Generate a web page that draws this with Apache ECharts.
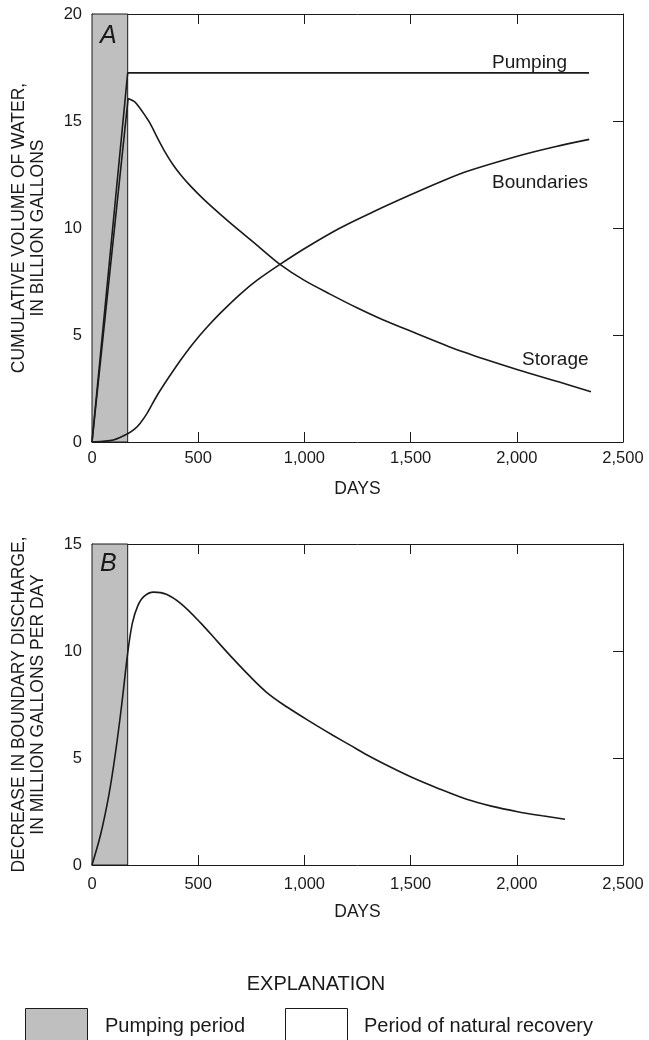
<!DOCTYPE html>
<html>
<head>
<meta charset="utf-8">
<title>Pumping and natural recovery</title>
<script src="https://cdn.jsdelivr.net/npm/echarts@6/dist/echarts.min.js"></script>
<style>
html,body{margin:0;padding:0;background:#fff;}
#chart{width:649px;height:1040px;}
</style>
</head>
<body>
<div id="chart"></div>
<script>
// end of the pumping period, days
var pumpEnd = 168;

// panel A - cumulative volume, billion gallons
var pumping = [[0,0],[168,17.25],[2340,17.25]];
var storageRise = [[0,0],[170,16.05]];
var storageFall = [[170,16.05],[200,15.9],[226,15.6],[250,15.25],[273,14.9],[305,14.27],[340,13.62],[380,12.98],
    [420,12.45],[462,11.98],[530,11.3],[603,10.65],[697,9.85],[776,9.2],[885,8.3],[1000,7.55],[1123,6.9],
    [1250,6.26],[1372,5.7],[1508,5.15],[1750,4.2],[2008,3.36],[2200,2.8],[2349,2.35]];
var boundaries = [[0,0],[50,0.03],[100,0.09],[170,0.4],[200,0.6],[226,0.87],[260,1.35],[305,2.15],[360,3.0],
    [415,3.8],[477,4.62],[540,5.35],[603,6.01],[697,6.9],[776,7.55],[885,8.3],[1011,9.1],[1168,10.0],
    [1325,10.76],[1500,11.55],[1639,12.15],[1767,12.65],[2019,13.4],[2180,13.8],[2341,14.14]];

// panel B - decrease in boundary discharge, million gallons per day
var discharge = [[0,0],[40,1.4],[80,3.3],[110,5.2],[140,7.5],[168,9.9],[190,11.3],[215,12.1],[245,12.55],
    [290,12.75],[350,12.65],[420,12.2],[508,11.35],[590,10.45],[665,9.63],[745,8.8],[822,8.07],[900,7.5],
    [979,7.0],[1060,6.5],[1136,6.05],[1215,5.6],[1293,5.15],[1400,4.6],[1505,4.1],[1630,3.58],
    [1764,3.07],[1880,2.75],[2004,2.49],[2120,2.3],[2227,2.14]];

// axis scales
var dayMax = 2500, dayStep = 500;
var volMax = 20, volStep = 5;
var rateMax = 15, rateStep = 5;

(function(window){
    var FONT = "'Liberation Sans', Arial, sans-serif",
        INK = '#1a1a1a';

    function commas(v){
        return String(v).replace(/\B(?=(\d{3})+(?!\d))/g, ',');
    }

    function xAxes(grid, labelMargin){
        var base = {
            gridIndex: grid, type: 'value', min: 0, max: dayMax, interval: dayStep,
            axisLine: {show: true, onZero: false, lineStyle: {color: INK, width: 1}},
            axisTick: {show: true, inside: true, length: 10, lineStyle: {color: INK}},
            splitLine: {show: false}
        };
        var bottom = echarts.util.merge({
            position: 'bottom',
            axisLabel: {formatter: commas, fontSize: 16.5, color: INK, fontFamily: FONT, margin: labelMargin},
            name: 'DAYS', nameLocation: 'middle', nameGap: 38,
            nameTextStyle: {fontSize: 17.5, color: INK, fontFamily: FONT}
        }, base, true);
        var top = echarts.util.merge({position: 'top', axisLabel: {show: false}}, base, true);
        return [bottom, top];
    }

    function yAxes(grid, max, step, title){
        var base = {
            gridIndex: grid, type: 'value', min: 0, max: max, interval: step,
            axisLine: {show: true, onZero: false, lineStyle: {color: INK, width: 1}},
            axisTick: {show: true, inside: true, length: 10, lineStyle: {color: INK}},
            splitLine: {show: false}
        };
        var left = echarts.util.merge({
            position: 'left',
            axisLabel: {fontSize: 16.5, color: INK, fontFamily: FONT, margin: 10},
            name: title, nameLocation: 'middle', nameRotate: 90, nameGap: 44,
            nameTextStyle: {fontSize: 17.5, color: INK, fontFamily: FONT, lineHeight: 19, align: 'center'}
        }, base, true);
        var right = echarts.util.merge({position: 'right', axisLabel: {show: false}}, base, true);
        return [left, right];
    }

    function line(data, xi, yi, smooth){
        return {
            type: 'line', data: data, xAxisIndex: xi, yAxisIndex: yi,
            showSymbol: false, smooth: smooth,
            lineStyle: {color: INK, width: 1.6}, z: 3
        };
    }

    function shade(){
        return {
            silent: true,
            itemStyle: {color: '#bfbfbf', borderColor: INK, borderWidth: 1},
            data: [[{xAxis: 0}, {xAxis: pumpEnd}]]
        };
    }

    function text(x, y, str, size, extra){
        var style = {text: str, x: 0, y: 0, fill: INK, font: size + 'px ' + FONT,
            textAlign: 'left', textVerticalAlign: 'middle'};
        if(extra){ for(var k in extra){ style[k] = extra[k]; } }
        return {type: 'text', x: x, y: y, style: style, z: 10};
    }

    function initChart(){
        var chart = echarts.init(document.getElementById('chart'), null, {renderer: 'canvas'});
        var pumpLine = line(pumping, 0, 0, false);
        pumpLine.markArea = shade();
        var dischargeLine = line(discharge, 2, 2, 0.3);
        dischargeLine.markArea = shade();

        var option = {
            animation: false,
            backgroundColor: '#fff',
            grid: [
                {left: 92, top: 14, width: 531, height: 428},
                {left: 92, top: 544, width: 531, height: 321}
            ],
            xAxis: xAxes(0, 8).concat(xAxes(1, 11)),
            yAxis: yAxes(0, volMax, volStep, 'CUMULATIVE VOLUME OF WATER,\nIN BILLION GALLONS')
                .concat(yAxes(1, rateMax, rateStep, 'DECREASE IN BOUNDARY DISCHARGE,\nIN MILLION GALLONS PER DAY')),
            series: [
                pumpLine,
                line(storageRise, 0, 0, false),
                line(storageFall, 0, 0, 0.3),
                line(boundaries, 0, 0, 0.3),
                dischargeLine
            ],
            graphic: [
                text(100, 36, 'A', 25, {font: 'italic 25px ' + FONT}),
                text(100, 564, 'B', 25, {font: 'italic 25px ' + FONT}),
                text(492, 63, 'Pumping', 19),
                text(492, 183, 'Boundaries', 19),
                text(522, 360, 'Storage', 19),
                text(316, 984, 'EXPLANATION', 20, {textAlign: 'center'}),
                {type: 'rect', shape: {x: 25.5, y: 1008.5, width: 62, height: 40},
                    style: {fill: '#bfbfbf', stroke: INK, lineWidth: 1}},
                text(105, 1026, 'Pumping period', 20),
                {type: 'rect', shape: {x: 285.5, y: 1008.5, width: 62, height: 40},
                    style: {fill: '#fff', stroke: INK, lineWidth: 1}},
                text(364, 1026, 'Period of natural recovery', 20)
            ]
        };
        chart.setOption(option);
    }

    initChart();
})(window);
</script>
</body>
</html>
